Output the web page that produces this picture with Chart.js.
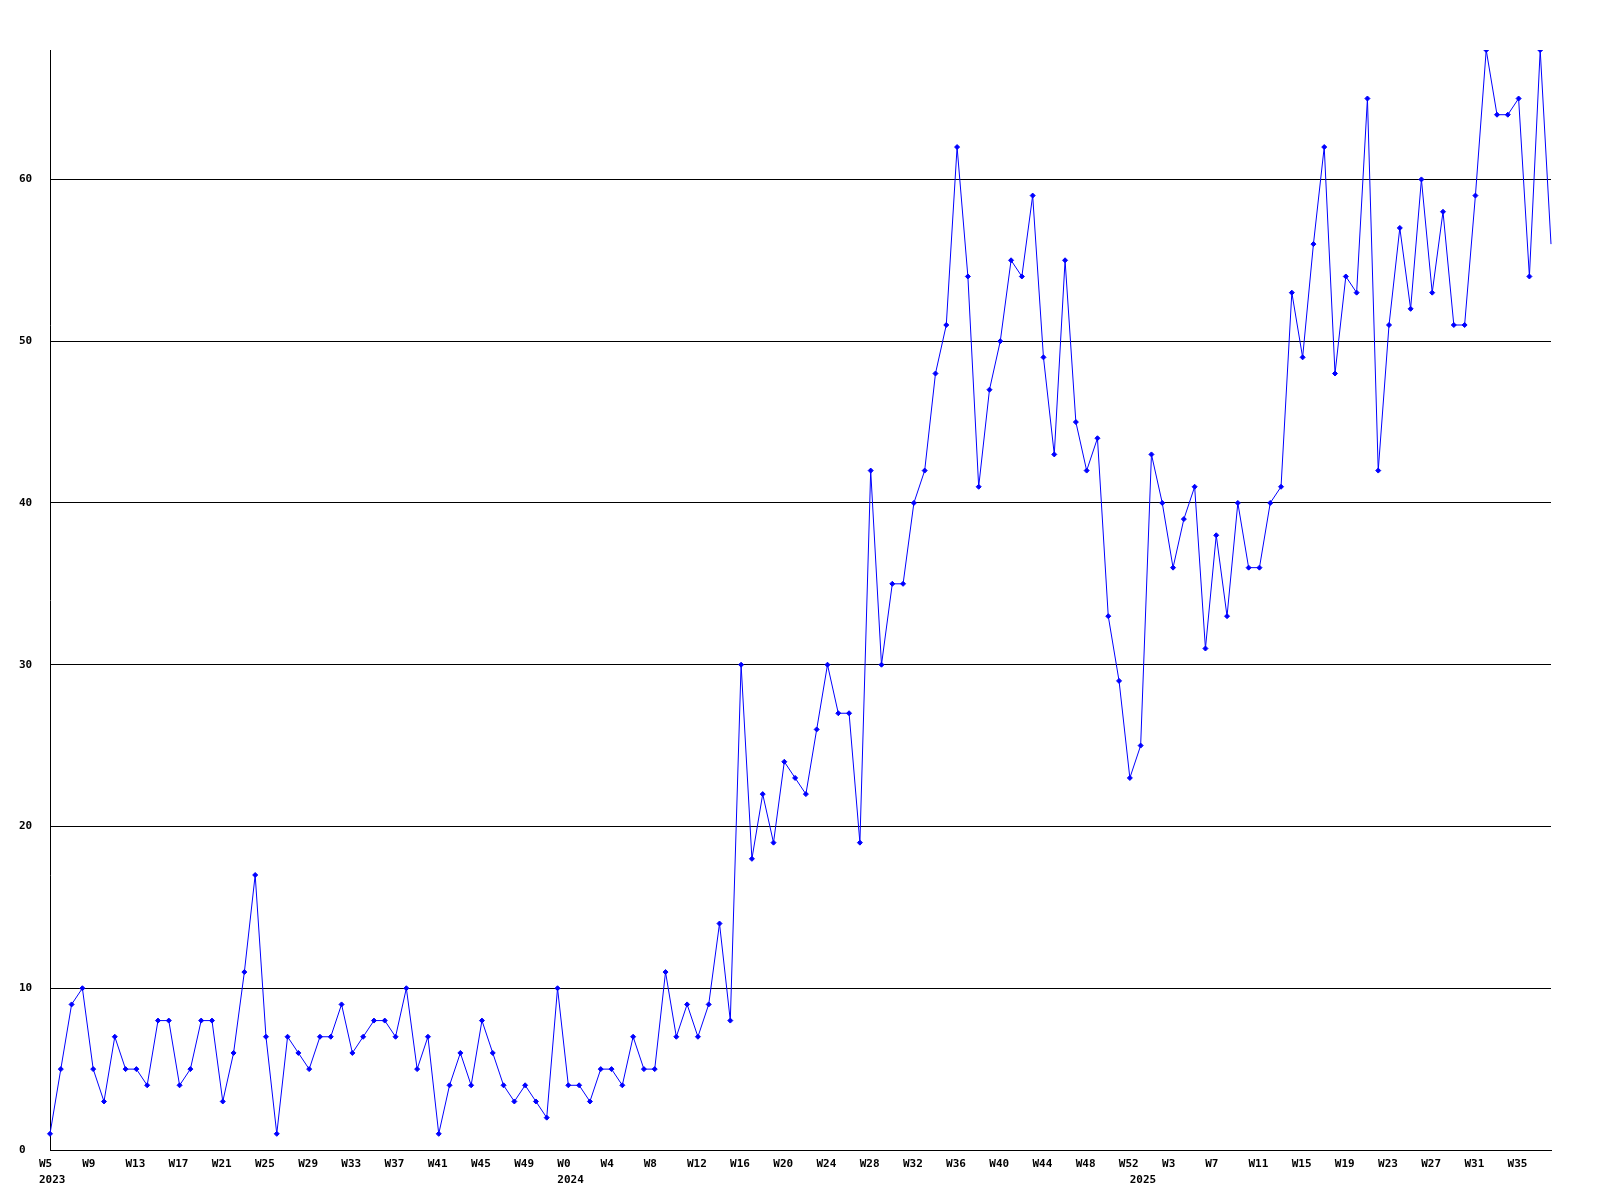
<!DOCTYPE html>
<html lang="en">

<head>
    <meta charset="UTF-8">
    <title>Weekly count</title>
    <script src="https://cdn.jsdelivr.net/npm/chart.js"></script>
    <style>
        body {
            margin: 0;
            background: #ffffff;
        }

        .chart-box {
            width: 1600px;
            height: 1200px;
        }
    </style>
</head>

<body>
    <div class="chart-box">
        <canvas id="weeklyChart"></canvas>
    </div>

    <script>
        // weekly values, one per week, split by year
        const values2023 = [1, 5, 9, 10, 5, 3, 7, 5, 5, 4, 8, 8, 4, 5, 8, 8, 3, 6, 11, 17, 7, 1, 7, 6, 5, 7, 7, 9, 6, 7, 8, 8,
            7, 10, 5, 7, 1, 4, 6, 4, 8, 6, 4, 3, 4, 3, 2, 10];
        const values2024 = [4, 4, 3, 5, 5, 4, 7, 5, 5, 11, 7, 9, 7, 9, 14, 8, 30, 18, 22, 19, 24, 23, 22, 26, 30, 27, 27,
            19, 42, 30, 35, 35, 40, 42, 48, 51, 62, 54, 41, 47, 50, 55, 54, 59, 49, 43, 55, 45, 42, 44, 33, 29, 23];
        const values2025 = [25, 43, 40, 36, 39, 41, 31, 38, 33, 40, 36, 36, 40, 41, 53, 49, 56, 62, 48, 54, 53, 65, 42, 51,
            57, 52, 60, 53, 58, 51, 51, 59, 68, 64, 64, 65, 54, 68, 56];

        // one label every 4 weeks
        const weekTicks = ['W5', 'W9', 'W13', 'W17', 'W21', 'W25', 'W29', 'W33', 'W37', 'W41', 'W45', 'W49',
            'W0', 'W4', 'W8', 'W12', 'W16', 'W20', 'W24', 'W28', 'W32', 'W36', 'W40', 'W44', 'W48', 'W52',
            'W3', 'W7', 'W11', 'W15', 'W19', 'W23', 'W27', 'W31', 'W35'];
        const years = ['2023', '2024', '2025'];
        const yTicks = [0, 10, 20, 30, 40, 50, 60];
        const yMax = 68;

        const yearValues = [values2023, values2024, values2025];
        const values = [].concat(...yearValues);
        const categories = values.map((v, i) => i);

        // index of the first week of each year
        const yearStart = [];
        let start = 0;
        yearValues.forEach(arr => { yearStart.push(start); start += arr.length; });

        Chart.defaults.font.family = "'DejaVu Sans Mono', 'Liberation Mono', monospace";
        Chart.defaults.font.size = 11;
        Chart.defaults.font.weight = 'bold';
        Chart.defaults.font.lineHeight = 1.45;
        Chart.defaults.color = '#000000';

        const ctx = document.getElementById('weeklyChart').getContext('2d');
        const lastIndex = values.length - 1;

        new Chart(ctx, {
            type: 'line',
            data: {
                labels: categories,
                datasets: [{
                    data: values,
                    borderColor: '#0000ff',
                    backgroundColor: '#0000ff',
                    borderWidth: 1,
                    tension: 0,
                    fill: false,
                    pointStyle: 'rectRot',
                    pointRadius: c => (c.dataIndex === lastIndex ? 0 : 2.5),
                    pointBorderWidth: 1,
                    pointBackgroundColor: '#0000ff',
                    pointBorderColor: '#0000ff'
                }]
            },
            options: {
                responsive: true,
                maintainAspectRatio: false,
                animation: false,
                events: [],
                layout: {
                    padding: { left: 19, right: 49, top: 50, bottom: 0 }
                },
                plugins: {
                    legend: { display: false },
                    tooltip: { enabled: false }
                },
                scales: {
                    x: {
                        type: 'category',
                        offset: false,
                        grid: { display: false, drawTicks: false },
                        border: { display: true, color: '#000000', width: 1 },
                        ticks: {
                            autoSkip: false,
                            maxRotation: 0,
                            minRotation: 0,
                            align: 'start',
                            labelOffset: -11,
                            padding: 6,
                            callback: (value, index) => {
                                const lines = [index % 4 === 0 ? weekTicks[index / 4] : ''];
                                const y = yearStart.indexOf(index);
                                if (y >= 0) lines.push(years[y]);
                                return lines.length > 1 || lines[0] ? lines : '';
                            }
                        },
                        afterFit: scale => { scale.height = 50; }
                    },
                    y: {
                        min: 0,
                        max: yMax,
                        grid: { display: true, color: '#000000', lineWidth: 1, drawTicks: false },
                        border: { display: true, color: '#000000', width: 1 },
                        ticks: {
                            includeBounds: false,
                            stepSize: 10,
                            crossAlign: 'far',
                            padding: 17,
                            callback: v => (yTicks.includes(v) ? String(v) : null)
                        },
                        afterFit: scale => { scale.width = 31; }
                    }
                }
            }
        });
    </script>
</body>

</html>
